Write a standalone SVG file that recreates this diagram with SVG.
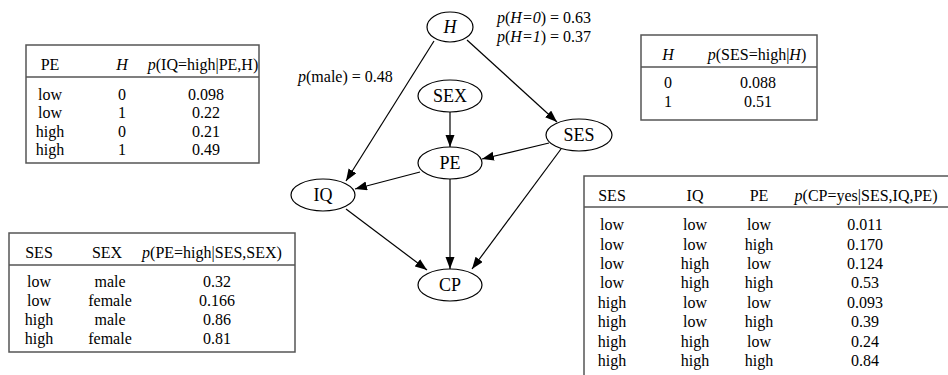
<svg xmlns="http://www.w3.org/2000/svg" width="948" height="375" viewBox="0 0 948 375">
<style>
text{font-family:"Liberation Serif","Times New Roman",serif;font-size:16px;fill:#000}
.m{text-anchor:middle}
.i{font-style:italic}
.n{font-size:18px;text-anchor:middle}
.tb{fill:#fff;stroke:#555;stroke-width:1.5}
.hl{stroke:#555;stroke-width:1.5}
ellipse{fill:#fff;stroke:#000;stroke-width:1.2}
.e{stroke:#000;stroke-width:1.2;fill:none;marker-end:url(#ah)}
</style>
<defs>
<marker id="ah" markerUnits="userSpaceOnUse" markerWidth="13" markerHeight="10" refX="12" refY="4.5" orient="auto">
<path d="M0,0 L12,4.5 L0,9 z" fill="#000"/>
</marker>
</defs>
<rect width="948" height="375" fill="#fff"/>

<g id="edges">
<line class="e" x1="434" y1="41" x2="346" y2="181"/>
<line class="e" x1="467" y1="40" x2="557" y2="122"/>
<line class="e" x1="450" y1="112" x2="450" y2="147"/>
<line class="e" x1="549" y1="143" x2="482" y2="159"/>
<line class="e" x1="420" y1="172" x2="355" y2="189"/>
<line class="e" x1="346" y1="209" x2="427" y2="270"/>
<line class="e" x1="450" y1="179" x2="450" y2="269"/>
<line class="e" x1="561" y1="149" x2="472" y2="269"/>
</g>

<g id="node-H"><ellipse cx="450" cy="27" rx="23" ry="15"/><text class="n i" x="450" y="33">H</text></g>
<g id="node-SEX"><ellipse cx="450" cy="96" rx="32" ry="16"/><text class="n" x="450" y="102">SEX</text></g>
<g id="node-SES"><ellipse cx="579" cy="135" rx="33" ry="16"/><text class="n" x="579" y="141">SES</text></g>
<g id="node-PE"><ellipse cx="450" cy="163" rx="32" ry="16"/><text class="n" x="450" y="169">PE</text></g>
<g id="node-IQ"><ellipse cx="323" cy="195" rx="32" ry="16"/><text class="n" x="323" y="201">IQ</text></g>
<g id="node-CP"><ellipse cx="450" cy="285" rx="32" ry="16"/><text class="n" x="450" y="291">CP</text></g>

<g id="priors">
<text x="497" y="23"><tspan class="i">p</tspan>(<tspan class="i">H=0</tspan>) = 0.63</text>
<text x="497" y="42"><tspan class="i">p</tspan>(<tspan class="i">H=1</tspan>) = 0.37</text>
<text x="298" y="82"><tspan class="i">p</tspan>(male) = 0.48</text>
</g>

<g id="table-IQ">
<rect class="tb" x="26" y="45" width="233" height="118"/>
<line class="hl" x1="26" y1="77" x2="259" y2="77"/>
<text class="m" x="50" y="70">PE</text>
<text class="m i" x="122" y="70">H</text>
<text class="m" x="203" y="70"><tspan class="i">p</tspan>(IQ=high|PE,H)</text>
<text class="m" x="50" y="100">low</text><text class="m" x="122" y="100">0</text><text class="m" x="206" y="100">0.098</text>
<text class="m" x="50" y="118">low</text><text class="m" x="122" y="118">1</text><text class="m" x="206" y="118">0.22</text>
<text class="m" x="50" y="137">high</text><text class="m" x="122" y="137">0</text><text class="m" x="206" y="137">0.21</text>
<text class="m" x="50" y="155">high</text><text class="m" x="122" y="155">1</text><text class="m" x="206" y="155">0.49</text>
</g>

<g id="table-PE">
<rect class="tb" x="9" y="233" width="286" height="119"/>
<line class="hl" x1="9" y1="265" x2="295" y2="265"/>
<text class="m" x="39" y="258">SES</text>
<text class="m" x="107" y="258">SEX</text>
<text class="m" x="212" y="258"><tspan class="i">p</tspan>(PE=high|SES,SEX)</text>
<text class="m" x="39" y="287">low</text><text class="m" x="110" y="287">male</text><text class="m" x="217" y="287">0.32</text>
<text class="m" x="39" y="306">low</text><text class="m" x="110" y="306">female</text><text class="m" x="217" y="306">0.166</text>
<text class="m" x="39" y="325">high</text><text class="m" x="110" y="325">male</text><text class="m" x="217" y="325">0.86</text>
<text class="m" x="39" y="344">high</text><text class="m" x="110" y="344">female</text><text class="m" x="217" y="344">0.81</text>
</g>

<g id="table-SES">
<rect class="tb" x="641" y="35" width="176" height="85"/>
<line class="hl" x1="641" y1="67" x2="817" y2="67"/>
<text class="m i" x="668" y="60">H</text>
<text class="m" x="757" y="60"><tspan class="i">p</tspan>(SES=high|<tspan class="i">H</tspan>)</text>
<text class="m" x="668" y="88">0</text><text class="m" x="758" y="88">0.088</text>
<text class="m" x="668" y="107">1</text><text class="m" x="758" y="107">0.51</text>
</g>

<g id="table-CP">
<rect class="tb" x="584" y="176" width="366" height="210"/>
<line class="hl" x1="584" y1="207" x2="950" y2="207"/>
<text class="m" x="612" y="201">SES</text>
<text class="m" x="695" y="201">IQ</text>
<text class="m" x="759" y="201">PE</text>
<text class="m" x="866" y="201"><tspan class="i">p</tspan>(CP=yes|SES,IQ,PE)</text>
<text class="m" x="612" y="230">low</text><text class="m" x="695" y="230">low</text><text class="m" x="759" y="230">low</text><text class="m" x="865" y="230">0.011</text>
<text class="m" x="612" y="250">low</text><text class="m" x="695" y="250">low</text><text class="m" x="759" y="250">high</text><text class="m" x="865" y="250">0.170</text>
<text class="m" x="612" y="269">low</text><text class="m" x="695" y="269">high</text><text class="m" x="759" y="269">low</text><text class="m" x="865" y="269">0.124</text>
<text class="m" x="612" y="288">low</text><text class="m" x="695" y="288">high</text><text class="m" x="759" y="288">high</text><text class="m" x="865" y="288">0.53</text>
<text class="m" x="612" y="308">high</text><text class="m" x="695" y="308">low</text><text class="m" x="759" y="308">low</text><text class="m" x="865" y="308">0.093</text>
<text class="m" x="612" y="327">high</text><text class="m" x="695" y="327">low</text><text class="m" x="759" y="327">high</text><text class="m" x="865" y="327">0.39</text>
<text class="m" x="612" y="347">high</text><text class="m" x="695" y="347">high</text><text class="m" x="759" y="347">low</text><text class="m" x="865" y="347">0.24</text>
<text class="m" x="612" y="366">high</text><text class="m" x="695" y="366">high</text><text class="m" x="759" y="366">high</text><text class="m" x="865" y="366">0.84</text>
</g>
</svg>
